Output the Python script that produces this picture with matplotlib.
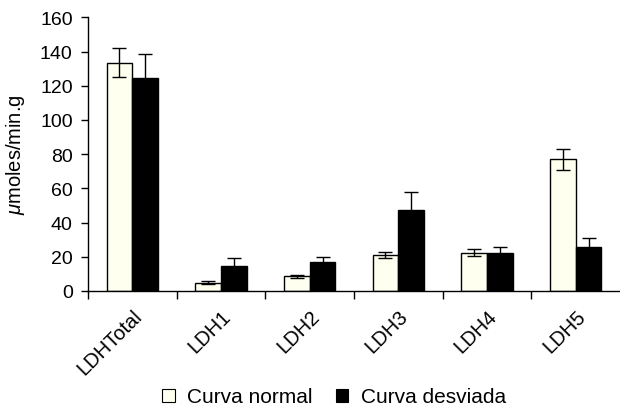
import matplotlib
matplotlib.use("Agg")
import matplotlib.pyplot as plt
import numpy as np
from matplotlib.patches import Patch

categories = ["LDHTotal", "LDH1", "LDH2", "LDH3", "LDH4", "LDH5"]
normal = [133.5, 4.8, 8.5, 21, 22.5, 77]
normal_err = [8.3, 0.8, 1.0, 1.6, 2.3, 6.0]
desviada = [124.5, 14.5, 16.8, 47.5, 22, 25.5]
desviada_err = [14, 5, 2.8, 10.3, 3.5, 5.3]
yticks = [0, 20, 40, 60, 80, 100, 120, 140, 160]

plt.rcParams['font.family'] = ['Liberation Sans', 'DejaVu Sans']
plt.rcParams['mathtext.fontset'] = 'custom'
plt.rcParams['mathtext.it'] = 'Liberation Sans:italic'
plt.rcParams['mathtext.rm'] = 'Liberation Sans'

fig = plt.figure(figsize=(6.2, 4.1), dpi=100)
ax = fig.add_axes([88/620, 1-292/410, 1-88/620, (292-18.3)/410])

x = np.arange(len(categories))
w = 0.29
ax.bar(x - w/2, normal, w, color='#FFFFF0', edgecolor='black', linewidth=1.0,
       yerr=normal_err, error_kw=dict(ecolor='black', elinewidth=1.0, capsize=5, capthick=1.0),
       label='Curva normal', zorder=2)
ax.bar(x + w/2, desviada, w, color='black', edgecolor='black', linewidth=1.0,
       yerr=desviada_err, error_kw=dict(ecolor='black', elinewidth=1.0, capsize=5, capthick=1.0),
       label='Curva desviada', zorder=2)

ax.set_xlim(-0.5, len(categories) - 0.5)
ax.set_ylim(0, 160)
ax.set_yticks(yticks)
ax.tick_params(axis='y', labelsize=14, length=5, width=1, direction='out', pad=6)
ax.set_xticks(x)
ax.set_xticklabels(categories, rotation=45, ha='right', va='top', rotation_mode='anchor', fontsize=14.5)
ax.tick_params(axis='x', which='major', length=0, pad=11)
ax.set_xticks(np.arange(len(categories)) - 0.5, minor=True)
ax.tick_params(axis='x', which='minor', length=6, width=1, direction='out')
for s in ['top', 'right']:
    ax.spines[s].set_visible(False)
ax.spines['left'].set_linewidth(1)
ax.spines['bottom'].set_linewidth(1)

ax.set_ylabel(r'$\mu$moles/min.g', fontsize=14.5)
ax.yaxis.set_label_coords(-0.115, 0.5)

handles = [Patch(facecolor='#FFFFF0', edgecolor='black', linewidth=0.8),
           Patch(facecolor='black', edgecolor='black', linewidth=0.8)]
fig.legend(handles, ['Curva normal', 'Curva desviada'], loc='center',
           bbox_to_anchor=(334/620, 1-398/410), ncol=2, frameon=False, fontsize=15,
           handlelength=0.6, handleheight=0.6, handletextpad=0.6, columnspacing=1.1)

fig.savefig('out.png', dpi=100)
